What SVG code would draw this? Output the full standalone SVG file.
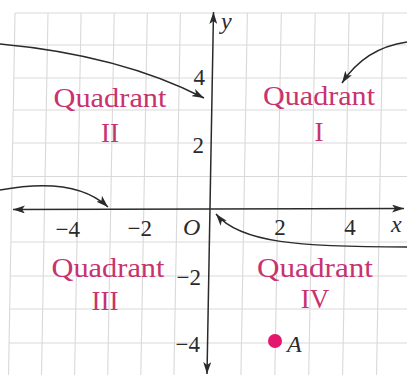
<svg xmlns="http://www.w3.org/2000/svg" width="407" height="375" viewBox="0 0 407 375">
<defs>
<style>
.grid line{stroke:#d9d9d9;stroke-width:1.1}
.axis{stroke:#2a2a2a;stroke-width:1.5;fill:none}
.conn{stroke:#2a2a2a;stroke-width:1.5;fill:none}
.num{font-family:'Liberation Serif','DejaVu Serif',serif;font-size:23px;fill:#2a2a2a}
.var{font-family:'Liberation Serif','DejaVu Serif',serif;font-style:italic;font-size:24px;fill:#2a2a2a}
.quad{font-family:'Liberation Serif','DejaVu Serif',serif;font-size:27px;fill:#c8336f;text-anchor:middle}
</style>
<marker id="arr" viewBox="0 0 12 8" refX="12" refY="4" markerWidth="12" markerHeight="8" markerUnits="userSpaceOnUse" orient="auto-start-reverse">
<path d="M0,0 L12,4 L0,8 L3,4 z" fill="#2a2a2a"/>
</marker>
</defs>
<rect width="407" height="375" fill="#ffffff"/>
<g class="grid" id="grid">
<line x1="15" y1="13" x2="8.5" y2="375"/>
<line x1="48" y1="13" x2="41.5" y2="375"/>
<line x1="81.1" y1="13" x2="74.6" y2="375"/>
<line x1="114.2" y1="13" x2="107.7" y2="375"/>
<line x1="147.3" y1="13" x2="140.8" y2="375"/>
<line x1="180.4" y1="13" x2="173.9" y2="375"/>
<line x1="247.4" y1="13" x2="240.9" y2="375"/>
<line x1="281.3" y1="13" x2="274.8" y2="375"/>
<line x1="315.2" y1="13" x2="308.7" y2="375"/>
<line x1="349.1" y1="13" x2="342.6" y2="375"/>
<line x1="383" y1="13" x2="376.5" y2="375"/>
<line x1="15" y1="13" x2="407" y2="13"/>
<line x1="14.4" y1="45" x2="407" y2="45"/>
<line x1="13.8" y1="78" x2="407" y2="78"/>
<line x1="13.2" y1="110" x2="407" y2="110"/>
<line x1="12.7" y1="143" x2="407" y2="143"/>
<line x1="12.1" y1="176.5" x2="407" y2="176.5"/>
<line x1="11.0" y1="242" x2="407" y2="242"/>
<line x1="10.4" y1="276" x2="407" y2="276"/>
<line x1="9.8" y1="309" x2="407" y2="309"/>
<line x1="9.2" y1="343" x2="407" y2="343"/>
</g>
<g id="axes">
<line class="axis" x1="13" y1="209.5" x2="404" y2="208.5" marker-start="url(#arr)" marker-end="url(#arr)"/>
<line class="axis" x1="213.5" y1="12" x2="207" y2="374" marker-start="url(#arr)" marker-end="url(#arr)"/>
</g>
<g id="connectors">
<path class="conn" d="M0,44 Q120,55 204,98" marker-end="url(#arr)"/>
<path class="conn" d="M407,42 Q365,48 342,83" marker-end="url(#arr)"/>
<path class="conn" d="M0,190 Q75,176 108,207" marker-end="url(#arr)"/>
<path class="conn" d="M407,247 C300,247 240,243 216,214" marker-end="url(#arr)"/>
</g>
<g id="labels">
<text class="var" x="221" y="29">y</text>
<text class="var" x="391" y="232">x</text>
<text class="var" x="183" y="235">O</text>
<text class="num" x="205" y="85" text-anchor="end">4</text>
<text class="num" x="204" y="153" text-anchor="end">2</text>
<text class="num" x="201" y="285" text-anchor="end">−2</text>
<text class="num" x="200" y="352" text-anchor="end">−4</text>
<text class="num" x="80" y="237" text-anchor="end">−4</text>
<text class="num" x="152" y="236" text-anchor="end">−2</text>
<text class="num" x="280" y="235" text-anchor="middle">2</text>
<text class="num" x="350" y="235" text-anchor="middle">4</text>
</g>
<g id="quadrant-II">
<text class="quad" x="110" y="107" textLength="113" lengthAdjust="spacingAndGlyphs">Quadrant</text>
<text class="quad" x="110" y="142">II</text>
</g>
<g id="quadrant-I">
<text class="quad" x="319" y="105" textLength="112" lengthAdjust="spacingAndGlyphs">Quadrant</text>
<text class="quad" x="319" y="141">I</text>
</g>
<g id="quadrant-III">
<text class="quad" x="108" y="277" textLength="113" lengthAdjust="spacingAndGlyphs">Quadrant</text>
<text class="quad" x="105" y="310">III</text>
</g>
<g id="quadrant-IV">
<text class="quad" x="315" y="277" textLength="116" lengthAdjust="spacingAndGlyphs">Quadrant</text>
<text class="quad" x="315" y="308">IV</text>
</g>
<g id="point-A">
<circle cx="275" cy="341" r="7" fill="#e3176b"/>
<text class="var" x="287" y="352" font-size="22">A</text>
</g>
</svg>
